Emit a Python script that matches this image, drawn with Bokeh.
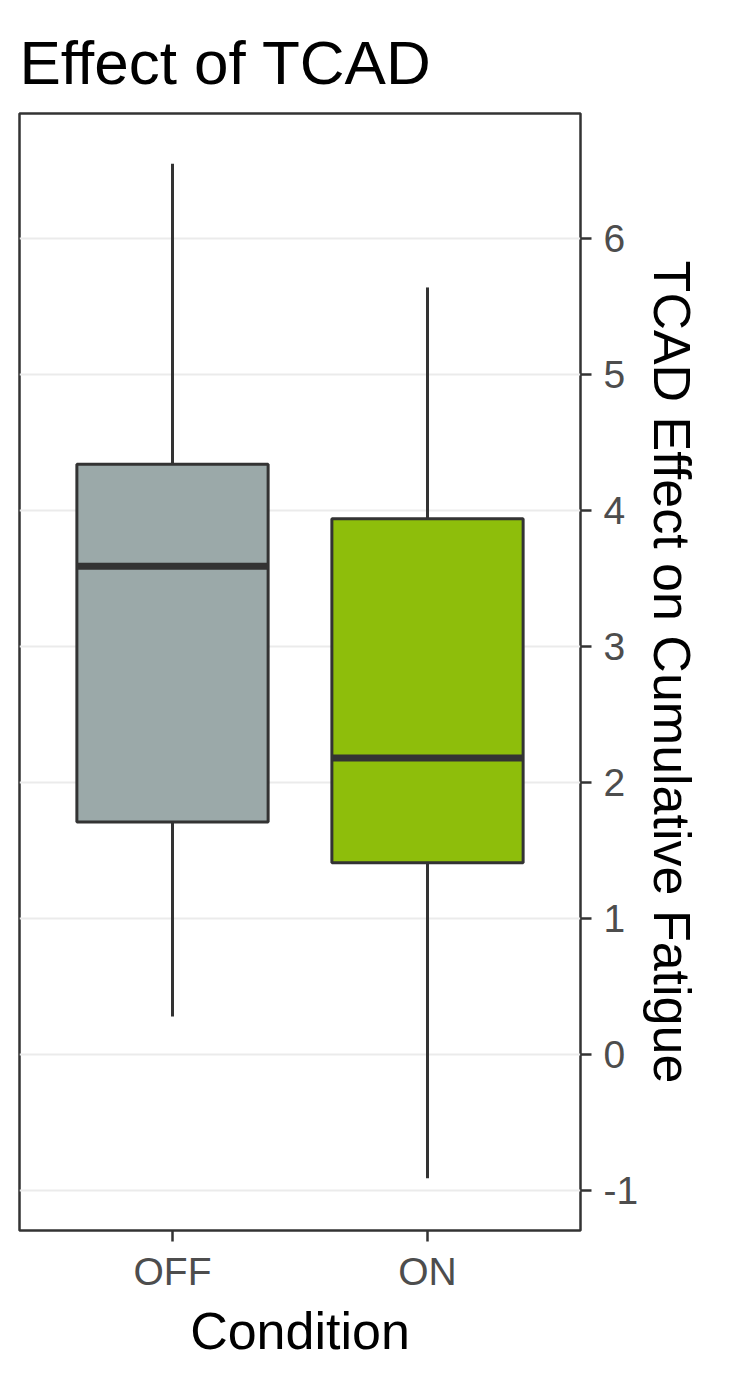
from bokeh.plotting import figure
from bokeh.models import ColumnDataSource, FactorRange, Range1d, FixedTicker
from bokeh.transform import dodge
from bokeh.embed import file_html
from bokeh.resources import INLINE

conditions = ["OFF", "ON"]
whisker_low = [0.28, -0.91]
q1 = [1.71, 1.41]
median = [3.59, 2.18]
q3 = [4.34, 3.94]
whisker_high = [6.55, 5.64]
fill_colors = ["#9BA9A9", "#8EBE0B"]
y_ticks = [-1, 0, 1, 2, 3, 4, 5, 6]
y_tick_labels = ["-1", "0", "1", "2", "3", "4", "5", "6"]

src = ColumnDataSource(dict(cond=conditions, lo=whisker_low, q1=q1, med=median,
                            q3=q3, hi=whisker_high, color=fill_colors))

FONT = "Liberation Sans"

p = figure(x_range=FactorRange(factors=conditions, range_padding=0.1,
                               range_padding_units="absolute"),
           y_range=Range1d(-1.294, 6.919),
           y_axis_location="right",
           frame_width=561, frame_height=1117,
           min_border_left=19, min_border_top=113, min_border_bottom=10, min_border_right=10,
           output_backend="svg", toolbar_location=None,
           title="Effect of TCAD")

p.title.text_font = FONT
p.title.text_font_size = "62px"
p.title.text_font_style = "normal"
p.title.text_color = "black"
p.title.offset = 0
p.title.standoff = 30
p.title.vertical_align = "top"
p.title.text_line_height = 0.75

p.background_fill_color = "white"
p.border_fill_color = "white"
p.outline_line_color = "#333333"
p.outline_line_width = 2.5
p.outline_line_alpha = 1

p.xgrid.grid_line_color = None
p.ygrid.grid_line_color = "#EBEBEB"
p.ygrid.grid_line_width = 2
p.yaxis.ticker = FixedTicker(ticks=y_ticks)
p.yaxis.major_label_overrides = {t: s for t, s in zip(y_ticks, y_tick_labels)}

for ax in (p.xaxis[0], p.yaxis[0]):
    ax.axis_line_color = None
    ax.major_tick_line_color = "#333333"
    ax.major_tick_line_width = 2.5
    ax.major_tick_out = 11
    ax.major_tick_in = 0
    ax.minor_tick_line_color = None
    ax.major_label_text_font = FONT
    ax.major_label_text_font_size = "39px"
    ax.major_label_text_color = "#4D4D4D"
    ax.axis_label_text_font = FONT
    ax.axis_label_text_font_size = "52px"
    ax.axis_label_text_font_style = "normal"
    ax.axis_label_text_color = "black"

p.xaxis.axis_label = "Condition"
p.xaxis.major_label_standoff = 8
p.xaxis.axis_label_standoff = 6
p.yaxis.axis_label = "TCAD Effect on Cumulative Fatigue"
p.yaxis.major_label_standoff = 12
p.yaxis.axis_label_standoff = 2

p.segment(x0="cond", y0="q3", x1="cond", y1="hi", source=src, line_color="#333333", line_width=3)
p.segment(x0="cond", y0="q1", x1="cond", y1="lo", source=src, line_color="#333333", line_width=3)
p.vbar(x="cond", top="q3", bottom="q1", width=0.75, source=src,
       fill_color="color", line_color="#333333", line_width=3)
p.segment(x0=dodge("cond", -0.375, range=p.x_range), y0="med",
          x1=dodge("cond", 0.375, range=p.x_range), y1="med",
          source=src, line_color="#333333", line_width=7, line_cap="butt")

open("out.html", "w").write(file_html(p, INLINE))
